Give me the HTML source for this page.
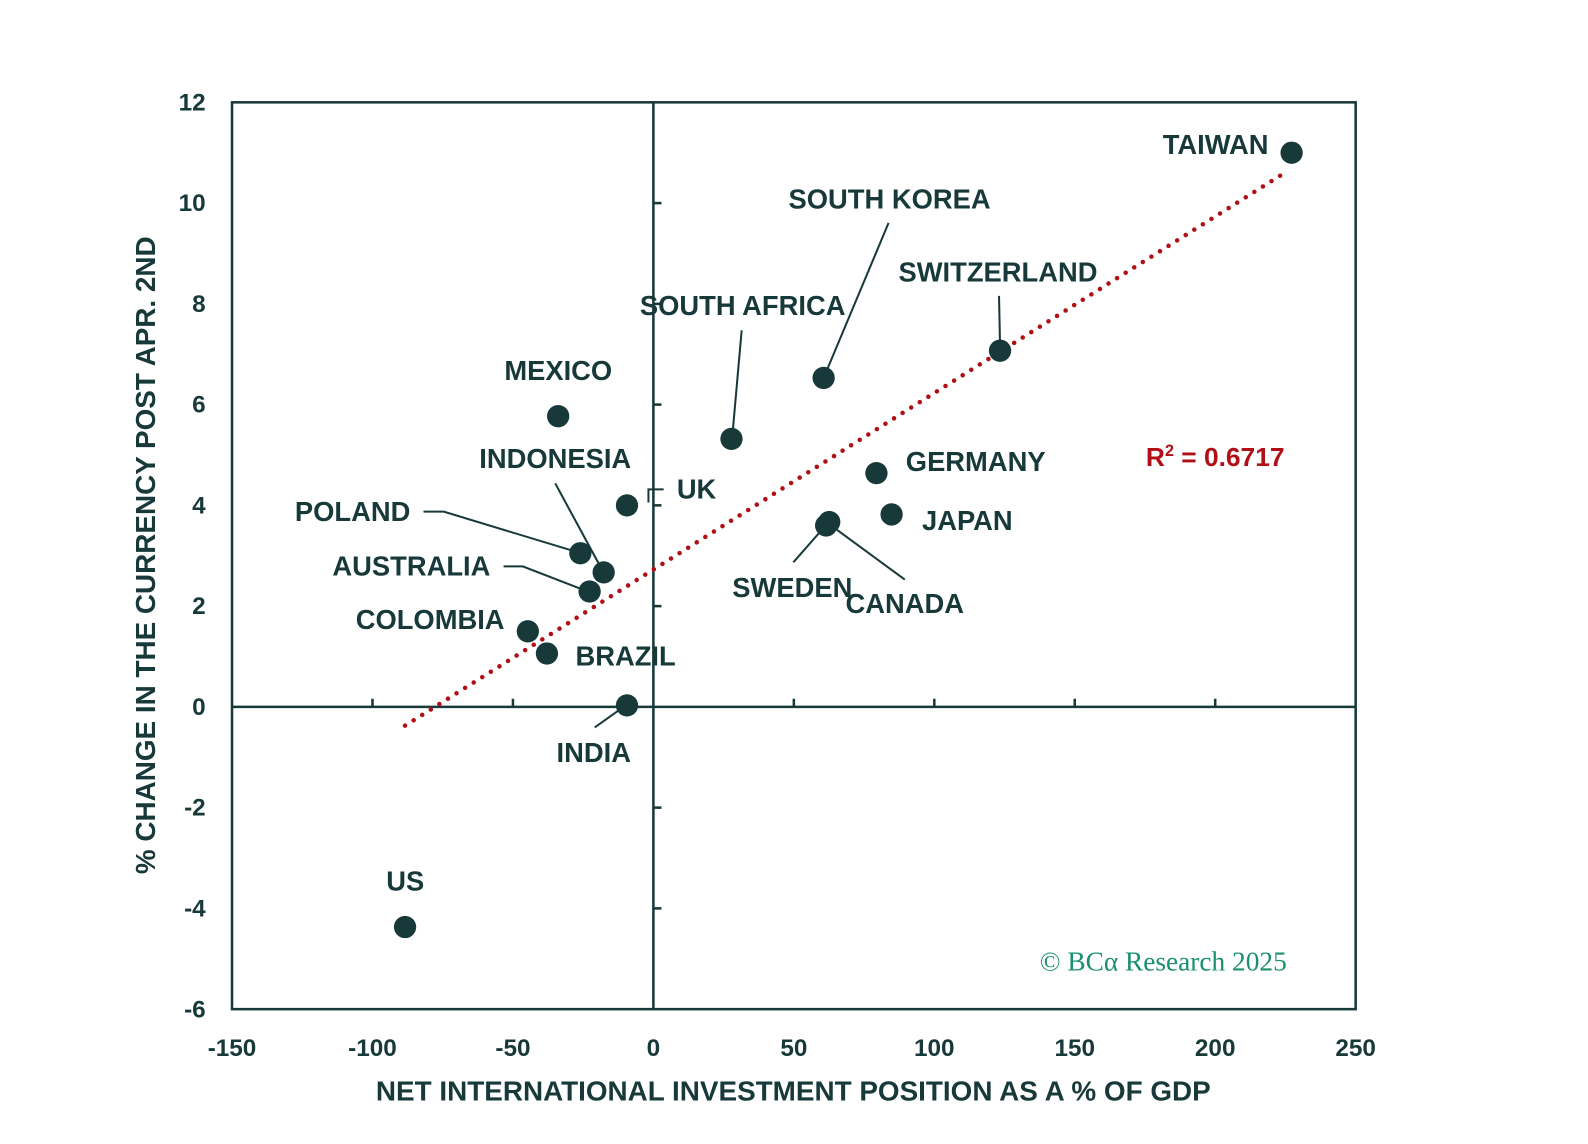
<!DOCTYPE html>
<html><head><meta charset="utf-8"><style>
html,body{margin:0;padding:0;background:#fff;}
svg{display:block;}
text{font-family:"Liberation Sans",sans-serif;font-weight:bold;fill:#17393a;}
</style></head><body>
<svg id="chart" width="1588" height="1144" viewBox="0 0 1588 1144">
<g transform="scale(1.0132)">
<g id="axes"></g><g id="marks"></g><g id="labels"></g>
</g>
</svg>
<script>
const countries=["TAIWAN","SWITZERLAND","SOUTH KOREA","SOUTH AFRICA","MEXICO","UK","GERMANY","JAPAN","SWEDEN","CANADA","POLAND","INDONESIA","AUSTRALIA","COLOMBIA","BRAZIL","INDIA","US"];
const niipValues=[227.2,123.4,60.6,27.8,-33.9,-9.4,79.4,84.8,61.5,62.6,-26,-17.7,-22.7,-44.7,-37.9,-9.4,-88.4];
const fxChange=[11.0,7.07,6.53,5.32,5.77,4.0,4.64,3.82,3.6,3.67,3.05,2.67,2.29,1.5,1.06,0.03,-4.37];
const xTicks=[-150,-100,-50,0,50,100,150,200,250];
const yTicks=[-6,-4,-2,0,2,4,6,8,10,12];
const r2Label="0.6717";

const NS="http://www.w3.org/2000/svg";
const L=229,R=1338,T=101,B=996;
const sx=v=>L+(v+150)/400*(R-L);
const sy=v=>B-(v+6)/18*(B-T);
const C="#17393a";
function mk(tag,attrs,parent,txt){const e=document.createElementNS(NS,tag);for(const k in attrs)e.setAttribute(k,attrs[k]);if(txt!==undefined)e.textContent=txt;document.getElementById(parent).appendChild(e);return e;}

let e=mk('rect',{x:L,y:T,width:R-L,height:B-T,fill:'none',stroke:C,'stroke-width':2.5},'axes');


e=mk('line',{x1:L,x2:R,y1:sy(0),y2:sy(0),stroke:C,'stroke-width':2.5},'axes');


e=mk('line',{x1:sx(0),x2:sx(0),y1:T,y2:B,stroke:C,'stroke-width':2.5},'axes');


xTicks.forEach(v=>{
  if(v>-150&&v<250&&v!==0){e=mk('line',{x1:sx(v),x2:sx(v),y1:sy(0),y2:sy(0)-8,stroke:C,'stroke-width':2.5},'axes');
  
  }
  e=mk('text',{x:sx(v),y:1042,'text-anchor':'middle','font-size':24},'axes',String(v));
  
  
});
yTicks.forEach(v=>{
  if(v>-6&&v<12&&v!==0){e=mk('line',{x1:sx(0),x2:sx(0)+8,y1:sy(v),y2:sy(v),stroke:C,'stroke-width':2.5},'axes');
  
  }
  e=mk('text',{x:203,y:sy(v)+8,'text-anchor':'end','font-size':24},'axes',String(v));
  
  
});
e=mk('text',{x:783,y:1086,'text-anchor':'middle','font-size':27.5},'axes','NET INTERNATIONAL INVESTMENT POSITION AS A % OF GDP');


e=mk('text',{x:0,y:0,'text-anchor':'middle','font-size':27.5,transform:'translate(153,548) rotate(-90)'},'axes','% CHANGE IN THE CURRENCY POST APR. 2ND');



const n=niipValues.length;let mx=0,my=0;niipValues.forEach((v,i)=>{mx+=v;my+=fxChange[i];});mx/=n;my/=n;
let sxy=0,sxx=0;niipValues.forEach((v,i)=>{sxy+=(v-mx)*(fxChange[i]-my);sxx+=(v-mx)*(v-mx);});
const slope=sxy/sxx,icpt=my-slope*mx;
const xmin=Math.min(...niipValues),xmax=Math.max(...niipValues);
e=mk('line',{x1:sx(xmin),y1:sy(icpt+slope*xmin),x2:sx(xmax-2),y2:sy(icpt+slope*(xmax-2)),stroke:'#b00f16','stroke-width':4.5,'stroke-dasharray':'0 10','stroke-linecap':'round'},'marks');



const lab={
"TAIWAN":[1252,152,'end',null],
"SWITZERLAND":[985,278,'middle',[[986,292],[987,340]]],
"SOUTH KOREA":[878,206,'middle',[[877,220],[815,368]]],
"SOUTH AFRICA":[733,311,'middle',[[732,326],[723,428]]],
"MEXICO":[551,375,'middle',null],
"UK":[668,492,'start',[[655,483],[640,483],[640,496]]],
"GERMANY":[894,465,'start',null],
"JAPAN":[910,523,'start',null],
"SWEDEN":[782,589,'middle',[[783,555],[812,522]]],
"CANADA":[893,605,'middle',[[893,572],[822,520]]],
"POLAND":[405,514,'end',[[418,505],[438,505],[570,545]]],
"INDONESIA":[548,462,'middle',[[548,477],[594,562]]],
"AUSTRALIA":[484,568,'end',[[497,559],[516,559],[578,583]]],
"COLOMBIA":[498,621,'end',null],
"BRAZIL":[568,657,'start',null],
"INDIA":[586,752,'middle',[[587,718],[615,698]]],
"US":[400,879,'middle',null]};
countries.forEach((c,i)=>{
  const l=lab[c];
  if(l[3]){e=mk('polyline',{points:l[3].map(p=>p.join(',')).join(' '),fill:'none',stroke:C,'stroke-width':2},'labels');
  
  }
  e=mk('text',{x:l[0],y:l[1],'text-anchor':l[2],'font-size':27},'labels',c);
  
  
  e=mk('circle',{cx:sx(niipValues[i]),cy:sy(fxChange[i]),r:11,fill:C},'marks');
  
  
});
e=mk('text',{x:1131,y:460,'font-size':26,style:'fill:#b00f16'},'labels');
e.innerHTML='R<tspan font-size="16" dy="-10">2</tspan><tspan dy="10"> = '+r2Label+'</tspan>';


e=mk('text',{x:1270,y:958,'text-anchor':'end','font-size':27,style:'fill:#1a9070;font-weight:normal;font-family:"Liberation Serif",serif'},'labels','© BCα Research 2025');


</script>
</body></html>
